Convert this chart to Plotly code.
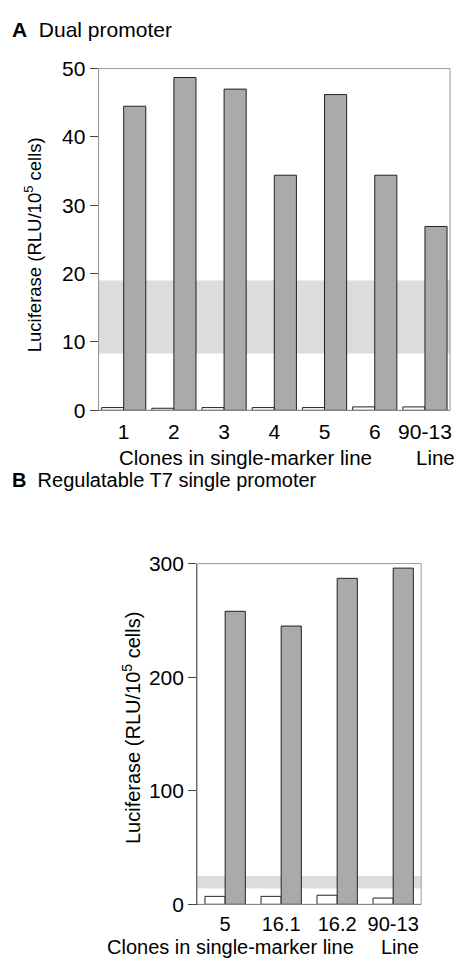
import plotly.graph_objects as go

# Panel A data
a_cats = ["1", "2", "3", "4", "5", "6", "90-13"]
a_off = [0.4, 0.3, 0.4, 0.4, 0.4, 0.5, 0.5]
a_on = [44.5, 48.7, 47.0, 34.4, 46.2, 34.4, 26.9]
a_band = [8.3, 19.0]
a_yticks = [0, 10, 20, 30, 40, 50]

# Panel B data
b_cats = ["5", "16.1", "16.2", "90-13"]
b_off = [7, 7, 8, 5.5]
b_on = [258, 245, 287, 296]
b_band = [14, 25]
b_yticks = [0, 100, 200, 300]

W, H = 466, 969
FONT = "Liberation Sans, Arial, sans-serif"
GREY = "#aaaaaa"
BAND = "#dcdcdc"

def px(x):
    return x / W

def py(y):
    return 1 - y / H

fig = go.Figure()
wa = 0.44
wb = 0.36
fig.add_trace(go.Bar(x=a_cats, y=a_off, width=wa, offset=-wa, marker=dict(color="white", line=dict(color="#222", width=1)), xaxis="x", yaxis="y", showlegend=False))
fig.add_trace(go.Bar(x=a_cats, y=a_on, width=wa, offset=0, marker=dict(color=GREY, line=dict(color="#222", width=1)), xaxis="x", yaxis="y", showlegend=False))
fig.add_trace(go.Bar(x=b_cats, y=b_off, width=wb, offset=-wb, marker=dict(color="white", line=dict(color="#222", width=1)), xaxis="x2", yaxis="y2", showlegend=False))
fig.add_trace(go.Bar(x=b_cats, y=b_on, width=wb, offset=0, marker=dict(color=GREY, line=dict(color="#222", width=1)), xaxis="x2", yaxis="y2", showlegend=False))

axfont = dict(family=FONT, size=21, color="black")
axfont_b = dict(family=FONT, size=20, color="black")
common_x = dict(showgrid=False, zeroline=False, showline=True, linecolor="#333", linewidth=1,
                ticks="outside", tickcolor="rgba(0,0,0,0)", fixedrange=True)
common_y = dict(showgrid=False, zeroline=False, showline=True, linecolor="#555", linewidth=1,
                ticks="outside", ticklen=8, tickcolor="#444", tickfont=axfont, fixedrange=True)

fig.update_layout(
    width=W, height=H, margin=dict(l=0, r=0, t=0, b=0),
    paper_bgcolor="white", plot_bgcolor="white", barmode="overlay",
    font=dict(family=FONT, color="black"),
    xaxis=dict(domain=[px(99), px(452)], anchor="y", type="category", range=[-0.5, 6.5], ticklen=2, tickfont=axfont, **common_x),
    yaxis=dict(domain=[py(408), py(58)], anchor="x", range=[0, 50], tickvals=a_yticks, **common_y),
    xaxis2=dict(domain=[px(198), px(423)], anchor="y2", type="category", range=[-0.5, 3.5], ticklen=2, tickfont=axfont_b, **common_x),
    yaxis2=dict(domain=[py(914), py(565)], anchor="x2", range=[0, 300], tickvals=b_yticks, **common_y),
)

shapes = [
    dict(type="rect", xref="x domain", yref="y", x0=0, x1=1, y0=a_band[0], y1=a_band[1], fillcolor=BAND, line=dict(width=0), layer="below"),
    dict(type="rect", xref="x2 domain", yref="y2", x0=0, x1=1, y0=b_band[0], y1=b_band[1], fillcolor=BAND, line=dict(width=0), layer="below"),
    dict(type="rect", xref="x domain", yref="y domain", x0=0, x1=1, y0=0, y1=1, line=dict(color="#999", width=1)),
    dict(type="rect", xref="x2 domain", yref="y2 domain", x0=0, x1=1, y0=0, y1=1, line=dict(color="#999", width=1)),
]
fig.update_layout(shapes=shapes)

def f(s):
    return dict(family=FONT, size=s, color="black")

ann = [
    dict(text="<b>A</b>  Dual promoter", x=px(11), y=py(18), xanchor="left", yanchor="middle", font=f(21)),
    dict(text="<b>B</b>  Regulatable T7 single promoter", x=px(11), y=py(479), xanchor="left", yanchor="middle", font=f(20)),
    dict(text="Clones in single-marker line", x=px(247), y=py(456), xanchor="center", yanchor="middle", font=f(20.5)),
    dict(text="Line", x=px(437), y=py(456), xanchor="center", yanchor="middle", font=f(20.5)),
    dict(text="Clones in single-marker line", x=px(231), y=py(958), xanchor="center", yanchor="middle", font=f(20)),
    dict(text="Line", x=px(402), y=py(958), xanchor="center", yanchor="middle", font=f(20)),
    dict(text="Luciferase (RLU/10<sup>5</sup> cells)", x=px(34), y=py(238), textangle=-90, xanchor="center", yanchor="middle", font=f(18.5)),
    dict(text="Luciferase (RLU/10<sup>5</sup> cells)", x=px(132), y=py(733), textangle=-90, xanchor="center", yanchor="middle", font=f(20)),
]
for a in ann:
    a.update(xref="paper", yref="paper", showarrow=False, borderpad=0)
fig.update_layout(annotations=ann)

fig.write_html("out.html")
